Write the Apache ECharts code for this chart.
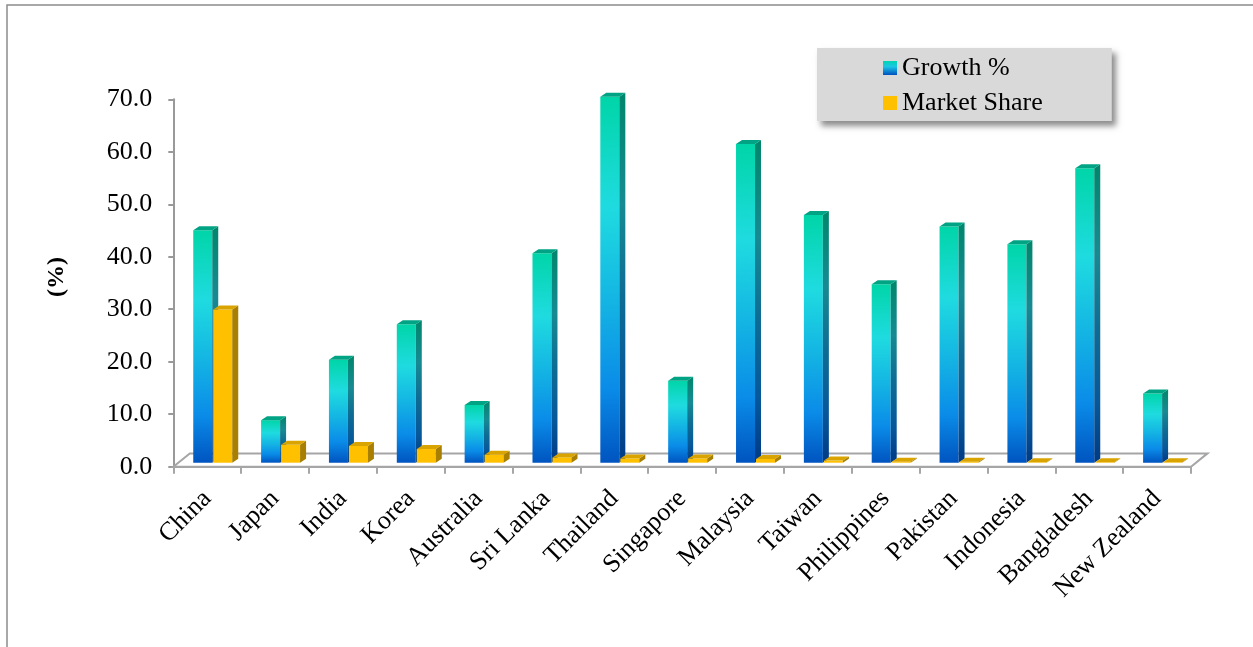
<!DOCTYPE html>
<html>
<head>
<meta charset="utf-8">
<script src="https://cdn.jsdelivr.net/npm/echarts@6/dist/echarts.min.js"></script>
<style>
html,body{margin:0;padding:0;background:#fff;}
#chart{width:1253px;height:647px;}
</style>
</head>
<body>
<div id="chart"></div>
<script>
const categories = ['China','Japan','India','Korea','Australia','Sri Lanka','Thailand','Singapore','Malaysia','Taiwan','Philippines','Pakistan','Indonesia','Bangladesh','New Zealand'];
const growth = [44.3, 8.1, 19.6, 26.4, 11.0, 39.9, 69.7, 15.6, 60.7, 47.2, 34.0, 45.0, 41.6, 56.1, 13.2];
const marketShare = [29.2, 3.4, 3.2, 2.6, 1.5, 1.0, 0.8, 0.8, 0.7, 0.4, 0.2, 0.2, 0.1, 0.1, 0.1];
const yTicks = { min: 0, max: 70, interval: 10 };

const FONT = "'Liberation Serif','Times New Roman',serif";
const G = echarts.graphic;

const growthFront = new G.LinearGradient(0,0,0,1,[
  {offset:0,color:'#00d5a8'},{offset:0.3,color:'#1fdbe0'},{offset:0.55,color:'#14b6e3'},
  {offset:0.8,color:'#0a8be8'},{offset:1,color:'#0054c0'}]);
const growthSide = new G.LinearGradient(0,0,0,1,[
  {offset:0,color:'#00866c'},{offset:0.3,color:'#178a92'},{offset:0.55,color:'#0e6c94'},
  {offset:0.8,color:'#06589a'},{offset:1,color:'#003a85'}]);
const growthTop = '#00a383';
const msFront = '#ffc000', msSide = '#a87f00', msTop = '#d9a300';

function barRender(kind){
  return function(params, api){
    const i = api.value(0), v = api.value(1);
    const base = api.coord([i, 0]);
    const top = api.coord([i, v]);
    const bw = api.size([1, 0])[0];
    const w = bw * 0.28;
    const cx = base[0] + bw * 0.074;
    const x0 = kind === 'g' ? cx - w : cx + 1;
    const x1 = x0 + w;
    const yb = base[1] - 4, yt = top[1] - 4;
    const dx = 6, dy = -4;
    const c = kind === 'g' ? [growthFront, growthSide, growthTop] : [msFront, msSide, msTop];
    return {
      type: 'group',
      children: [
        {type:'polygon', shape:{points:[[x0,yb],[x1,yb],[x1,yt],[x0,yt]]}, style:{fill:c[0]}},
        {type:'polygon', shape:{points:[[x1,yb],[x1+dx,yb+dy],[x1+dx,yt+dy],[x1,yt]]}, style:{fill:c[1]}},
        {type:'polygon', shape:{points:[[x0,yt],[x0+dx,yt+dy],[x1+dx,yt+dy],[x1,yt]]}, style:{fill:c[2]}}
      ]
    };
  };
}

function floorRender(params, api){
  const bw = api.size([1, 0])[0];
  const a = api.coord([0, 0]);
  const b = api.coord([categories.length - 1, 0]);
  const L = a[0] - bw/2, R = b[0] + bw/2, y0 = a[1];
  const DX = 16.5, DY = -13.3;
  return {
    type: 'polygon',
    shape: {points: [[L,y0],[L+DX,y0+DY],[R+DX,y0+DY],[R,y0]]},
    style: {fill:'#ffffff', stroke:'#a6a6a6', lineWidth:2}
  };
}

const chart = echarts.init(document.getElementById('chart'), null, {renderer:'canvas'});
chart.setOption({
  animation: false,
  backgroundColor: '#ffffff',
  graphic: [{
    type:'rect', shape:{x:7,y:5,width:1300,height:700},
    style:{fill:'none', stroke:'#8c8c8c', lineWidth:1.5}, z:-10, silent:true
  }],
  legend: {
    left: 817, top: 48, orient: 'vertical',
    backgroundColor: '#d9d9d9',
    shadowBlur: 6, shadowColor: 'rgba(0,0,0,0.45)', shadowOffsetX: 4, shadowOffsetY: 5,
    padding: [7, 69, 5, 66],
    itemGap: 9, itemWidth: 14, itemHeight: 14, icon: 'rect',
    textStyle: {fontFamily: FONT, fontSize: 26, color: '#000'},
    data: [
      {name:'Growth %', itemStyle:{color: new G.LinearGradient(0,0,0,1,[{offset:0,color:'#00d5b0'},{offset:0.4,color:'#1cc6e6'},{offset:1,color:'#0050c0'}])}},
      {name:'Market Share', itemStyle:{color: msFront}}
    ]
  },
  grid: {left: 173.3, right: 62, top: 99.3, bottom: 180.3, containLabel: false},
  xAxis: {
    type: 'category', data: categories, boundaryGap: true,
    axisLine: {lineStyle:{color:'#a6a6a6', width:2}},
    axisTick: {show:true, interval:0, length:7, lineStyle:{color:'#a6a6a6', width:2}},
    axisLabel: {interval:0, rotate:45, margin:28, fontFamily:FONT, fontSize:26, color:'#000'},
    splitLine: {show:false}
  },
  yAxis: {
    type: 'value', min: yTicks.min, max: yTicks.max, interval: yTicks.interval,
    name: '(%)', nameLocation: 'middle', nameGap: 105,
    nameTextStyle: {fontFamily:FONT, fontSize:24, fontWeight:'bold', color:'#000', padding:[0,0,0,12]},
    axisLine: {show:true, lineStyle:{color:'#999999', width:2}},
    axisTick: {show:true, length:5, lineStyle:{color:'#999999', width:2}},
    axisLabel: {margin:21, fontFamily:FONT, fontSize:26, color:'#000', formatter: v => v.toFixed(1)},
    splitLine: {show:false}
  },
  series: [
    {type:'custom', name:'floor', renderItem: floorRender, data: [[0, 0]], z: 1, silent: true, encode:{x:0, y:1}},
    {type:'custom', name:'Growth %', renderItem: barRender('g'), data: growth.map((v,i)=>[i,v]), encode:{x:0,y:1}, z: 2, itemStyle:{color:'#14b6e3'}},
    {type:'custom', name:'Market Share', renderItem: barRender('m'), data: marketShare.map((v,i)=>[i,v]), encode:{x:0,y:1}, z: 3, itemStyle:{color:msFront}}
  ]
});
</script>
</body>
</html>
